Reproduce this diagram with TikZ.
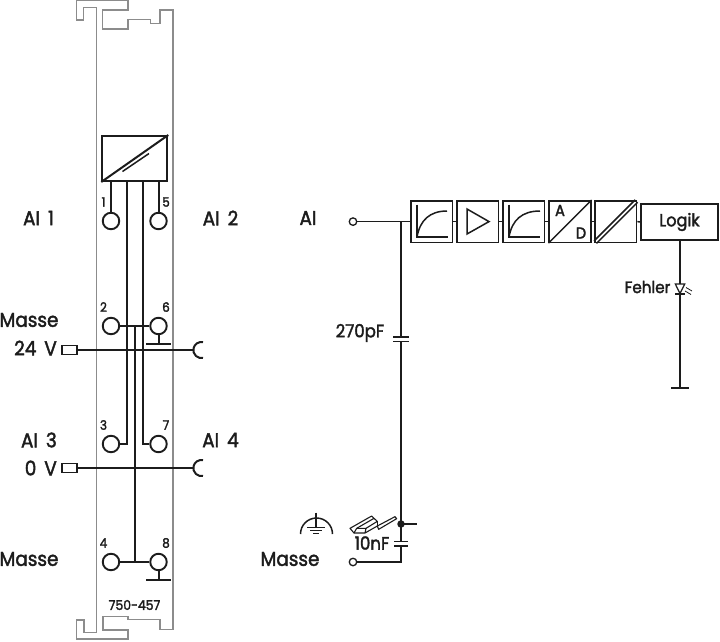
\documentclass[tikz,border=0pt]{standalone}
\usepackage{fontspec}
\setmainfont{Poppins}[FakeBold=2,FakeStretch=0.92]
\usetikzlibrary{calc}
\definecolor{ink}{HTML}{1C1C1C}
\definecolor{shell}{HTML}{8C8C8C}
\tikzset{
  wire/.style={draw=ink,line width=2pt},
  thin wire/.style={draw=ink,line width=1.5pt},
  term/.style={circle,draw=ink,line width=1.9pt,minimum size=16.5pt,inner sep=0pt},
  smallterm/.style={circle,draw=ink,line width=1.3pt,minimum size=7.5pt,inner sep=0pt},
  sq/.style={rectangle,draw=ink,line width=1.6pt,minimum width=15pt,minimum height=9pt,inner sep=0pt},
  blk/.style={rectangle,draw=ink,line width=1.6pt,minimum width=41.5pt,minimum height=41.5pt,inner sep=0pt},
  lab/.style={inner sep=0pt,text=ink,font=\fontsize{20}{21}\selectfont},
  midlab/.style={inner sep=0pt,text=ink,font=\fontsize{17}{18}\selectfont},
  num/.style={inner sep=0pt,text=ink,font=\fontsize{13}{14}\selectfont},
  outline/.style={draw=shell,line width=1.2pt,line join=miter},
}
\newcommand{\gap}{\hspace{8pt}}
\begin{document}
\begin{tikzpicture}[x=1pt,y=-1pt]
\useasboundingbox (0,0) rectangle (720,641);
% shell
\draw[outline] (96.7,632.7) -- (96.7,7.3) -- (83.3,7.3) -- (83.3,20) -- (76.7,20) -- (76.7,0.7) -- (128,0.7) -- (128,10) -- (102.7,10) -- (102.7,29) -- (128,29) -- (128,19.5) -- (150.7,19.5) -- (150.7,23.3) -- (160,23.3) -- (160,10) -- (173,10) -- (173,629.3) -- (160,629.3) -- (160,619.5) -- (128,619.5) -- (128,616.7) -- (103,616.7) -- (103,630) -- (128,630) -- (128,639) -- (76.7,639) -- (76.7,620) -- (84,620) -- (84,632.7) -- cycle;
% converter
\node[rectangle,draw=ink,line width=2pt,minimum width=65pt,minimum height=45pt,inner sep=0pt] (conv) at (134.8,158.5) {};
\draw[wire] (conv.south west) -- (conv.north east);
\draw[thin wire] (122.5,171.5) -- (149,153.5);
% terminals
\node[term] (t1) at (111,221) {};
\node[term] (t5) at (158.5,221) {};
\node[term] (t2) at (111,326) {};
\node[term] (t6) at (158.5,326) {};
\node[term] (t3) at (111,444) {};
\node[term] (t7) at (158.5,444) {};
\node[term] (t4) at (111,562) {};
\node[term] (t8) at (158.5,562) {};
\coordinate (c1) at (126.7,181);
\coordinate (c2) at (142.7,181);
\draw[wire] (t1.north) -- (t1.north |- conv.south);
\draw[wire] (t5.north) -- (t5.north |- conv.south);
\draw[wire] (c1) |- (t3.east);
\draw[wire] (c2) |- (t7.west);
\draw[wire] (t2.east) -- (t6.west);
\draw[wire] (t4.east) -- (t8.west);
\coordinate (j26) at (135,326);
\coordinate (j48) at (135,562);
\draw[wire] (j26) -- (j48);
% T earth
\coordinate (e6) at (158.5,343.5);
\coordinate (e8) at (158.5,580);
\draw[wire] (t6.south) -- (e6);
\draw[wire] (t8.south) -- (e8);
\draw[wire] (146,343.5) -- (170.7,343.5);
\draw[wire] (146,580) -- (170.7,580);
% power rails
\node[sq] (s24) at (69.5,350) {};
\node[sq] (s0) at (69.5,468) {};
\coordinate (r24) at (193.5,350);
\coordinate (r0) at (193.5,468);
\draw[wire] (s24.east) -- (r24);
\draw[wire] (s0.east) -- (r0);
\draw[wire] (203,342.2) arc[start angle=-78,end angle=-282,radius=8];
\draw[wire] (203,460.2) arc[start angle=-78,end angle=-282,radius=8];
% numbers
\node[num] at (103.5,202) {1};
\node[num] at (166,202) {5};
\node[num] at (103.5,307) {2};
\node[num] at (166,307) {6};
\node[num] at (103.5,425) {3};
\node[num] at (166,425) {7};
\node[num] at (103.5,543) {4};
\node[num] at (166,543) {8};
% labels left
\node[lab] at (38.5,218) {AI\gap 1};
\node[lab] at (220.5,218) {AI\gap 2};
\node[lab] at (29,320) {Masse};
\node[lab,anchor=east] at (57,348) {24\gap V};
\node[lab,anchor=east] at (57,440) {AI\gap 3};
\node[lab] at (220.5,440) {AI\gap 4};
\node[lab,anchor=east] at (57,468) {0\gap V};
\node[lab] at (29,559) {Masse};
\node[num,font=\fontsize{13.5}{14}\selectfont] at (134.5,605) {750-457};
% right side
\node[lab] at (308,218) {AI};
\node[lab] at (290,559) {Masse};
\node[smallterm] (ai) at (353,221.6) {};
\node[blk] (b1) at (431.8,221.6) {};
\node[blk] (b2) at (477.8,221.6) {};
\node[blk] (b3) at (523.8,221.6) {};
\node[blk] (b4) at (570,221.6) {};
\node[blk] (b5) at (615.8,221.6) {};
\node[rectangle,draw=ink,line width=1.6pt,minimum width=77pt,minimum height=36pt,inner sep=0pt,text=ink,font=\fontsize{17.5}{18}\selectfont] (lg) at (679.5,222) {Logik};
\draw[thin wire] (ai.east) -- (b1.west);
\draw[thin wire] (b1.east) -- (b2.west);
\draw[thin wire] (b2.east) -- (b3.west);
\draw[thin wire] (b3.east) -- (b4.west);
\draw[thin wire] (b4.east) -- (b5.west);
\draw[thin wire] (b5.east) -- (lg.west);
% glyphs
\draw[thin wire] (417,204.5) -- (417,237) -- (448,237);
\draw[thin wire] (417,237) .. controls (420,220) and (430,211) .. (447,211);
\draw[thin wire] (467,209) -- (467,234) -- (489,221.6) -- cycle;
\draw[thin wire] (509,204.5) -- (509,237) -- (540,237);
\draw[thin wire] (509,237) .. controls (512,220) and (522,211) .. (540,211);
\draw[thin wire] (b4.south west) -- (b4.north east);
\node[inner sep=0pt,text=ink,font=\fontsize{16}{17}\selectfont] at (560,210.5) {A};
\node[inner sep=0pt,text=ink,font=\fontsize{16}{17}\selectfont] at (581,233) {D};
\draw[thin wire] ($(b5.south west)+(-0.2,-2.2)$) -- ($(b5.north east)+(-2.2,-0.2)$);
\draw[thin wire] ($(b5.south west)+(2.2,0.2)$) -- ($(b5.north east)+(0.2,2.2)$);
% Logik down
\coordinate (gnd) at (680,388);
\draw[thin wire] (lg.south -| gnd) -- (gnd);
\draw[wire] (671,388) -- (689,388);
\node[midlab,anchor=east,font=\fontsize{16.5}{17}\selectfont] at (670.5,287) {Fehler};
\draw[line width=1.2pt,draw=ink,fill=white] (675.3,284) -- (684.7,284) -- (680,293.5) -- cycle;
\draw[line width=1.4pt,draw=ink] (675.3,294) -- (684.7,294);
\draw[line width=.8pt,draw=ink] (686,287.5) -- (692,291) (685,291) -- (691,294.5);
% main vertical
\coordinate (top) at (401,221.6);
\node[circle,fill=ink,minimum size=7.5pt,inner sep=0pt] (jn) at (401,524) {};
\coordinate (stub) at (417,524);
\draw[thin wire] (top) -- (401,337) (401,341.5) -- (jn.center);
\draw[thin wire] (jn.center) -- (stub);
\draw[thin wire] (393,337) -- (409,337) (393,341.5) -- (409,341.5);
\node[midlab,font=\fontsize{18}{19}\selectfont] at (360,333) {270pF};
\draw[thin wire] (jn.center) -- (401,541.7);
\draw[thin wire] (394,541.7) -- (408,541.7) (394,546) -- (408,546);
\node[smallterm] (m) at (353,562) {};
\draw[thin wire] (401,546) |- (m.east);
\node[midlab,font=\fontsize{18}{19}\selectfont] at (372,543) {10nF};
% earth symbol
\draw[thin wire] (300.5,534) arc[start angle=180,end angle=360,radius=16];
\draw[thin wire] (316,512.5) -- (316,527);
\draw[thin wire] (307,527.5) -- (325,527.5);
\draw[line width=1pt,draw=ink] (310,530.7) -- (322,530.7);
\draw[line width=1pt,draw=ink] (313,533.5) -- (319,533.5);
% DIN rail
\begin{scope}[shift={(290,500)},x=0.3333pt,y=-0.3333pt,line width=1.1pt,line join=round]
\draw[ink] (180,85) -- (245,48) -- (252,55) -- (200,85) -- (192,99) -- cycle;
\draw[ink] (192,99) -- (225,99) -- (262,78);
\draw[ink] (200,85) -- (228,85) -- (225,99);
\draw[ink] (228,85) -- (262,64) -- (252,55);
\draw[ink] (262,78) -- (262,64);
\draw[ink] (262,78) -- (315,50) -- (320,56) -- (266,88) -- cycle;
\end{scope}
\end{tikzpicture}
\end{document}
